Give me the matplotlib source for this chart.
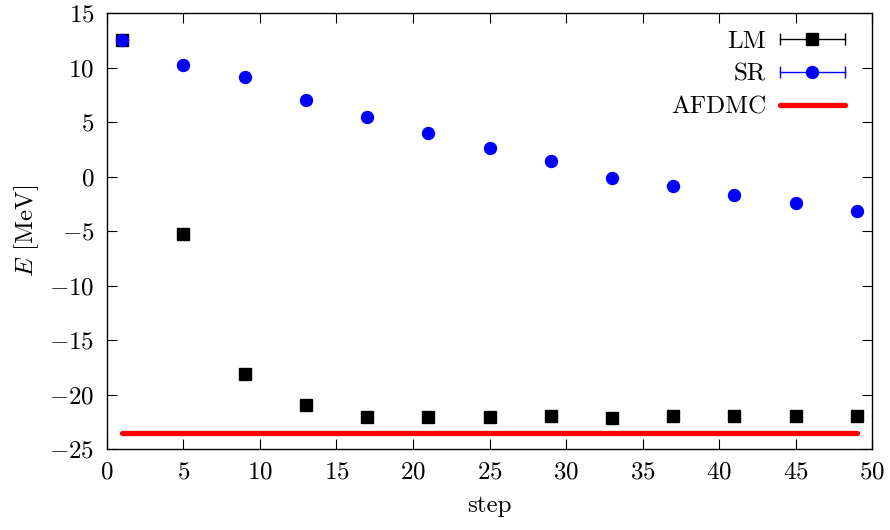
import numpy as np
import matplotlib
matplotlib.use("Agg")
import matplotlib.pyplot as plt
from matplotlib.lines import Line2D
from matplotlib.legend_handler import HandlerLine2D

plt.rcParams['font.family'] = 'serif'
plt.rcParams['font.serif'] = ['cmr10', 'DejaVu Serif']
plt.rcParams['mathtext.fontset'] = 'cm'
plt.rcParams['axes.formatter.use_mathtext'] = True
plt.rcParams['axes.unicode_minus'] = True

steps = [1, 5, 9, 13, 17, 21, 25, 29, 33, 37, 41, 45, 49]
lm_energy = [12.5, -5.3, -18.1, -21.0, -22.1, -22.1, -22.1, -22.0, -22.2, -22.0, -22.0, -22.0, -22.0]
sr_energy = [12.5, 10.2, 9.1, 7.0, 5.45, 3.95, 2.65, 1.4, -0.1, -0.85, -1.65, -2.45, -3.2]
afdmc_steps = [1, 49]
afdmc_energy = [-23.5, -23.5]


class HandlerCapped(HandlerLine2D):
    # gnuplot-style key: horizontal error bar with end caps
    def create_artists(self, legend, orig_handle, xdescent, ydescent,
                       width, height, fontsize, trans):
        arts = super().create_artists(legend, orig_handle, xdescent, ydescent,
                                      width, height, fontsize, trans)
        line = arts[0]
        xd, yd = line.get_xdata(), line.get_ydata()
        caps = Line2D([xd[0], xd[-1]], [yd[0], yd[-1]], linestyle='none',
                      marker='|', markersize=8, markeredgewidth=1,
                      color=orig_handle.get_color())
        caps.set_transform(trans)
        return arts + [caps]


fig = plt.figure(figsize=(8.9, 5.3), dpi=100)
ax = fig.add_axes([0.1202, 0.1528, 0.8596, 0.8226])

ax.plot(steps, lm_energy, 's', color='black', markersize=9.3, zorder=3)
ax.plot(steps, sr_energy, 'o', color='#0000ff', markersize=8.6, zorder=4)
ax.plot(afdmc_steps, afdmc_energy, '-', color='#ff0000', linewidth=3.8,
        solid_capstyle='round', zorder=2)

ax.set_xlim(0, 50)
ax.set_ylim(-25, 15)
ax.set_xticks(np.arange(0, 51, 5))
ax.set_yticks(np.arange(-25, 16, 5))
ax.tick_params(direction='in', top=True, right=True, length=7, width=0.8,
               labelsize=18, pad=9)
for s in ax.spines.values():
    s.set_linewidth(1.0)

ax.set_xlabel('step', fontsize=18, labelpad=8)
ax.set_ylabel(r'$E$ [MeV]', fontsize=18, labelpad=6)

h_lm = Line2D([], [], color='black', linewidth=1, marker='s', markersize=9.3)
h_sr = Line2D([], [], color='#0000ff', linewidth=1, marker='o', markersize=8.6)
h_af = Line2D([], [], color='#ff0000', linewidth=3.8, solid_capstyle='round')
ax.legend([h_lm, h_sr, h_af], ['LM', 'SR', 'AFDMC'],
          handler_map={h_lm: HandlerCapped(), h_sr: HandlerCapped()},
          loc='upper right', bbox_to_anchor=(0.994, 1.012), frameon=False,
          markerfirst=False, fontsize=18, handlelength=2.6,
          labelspacing=0.42, handletextpad=0.55)

fig.savefig('out.png', dpi=100)
